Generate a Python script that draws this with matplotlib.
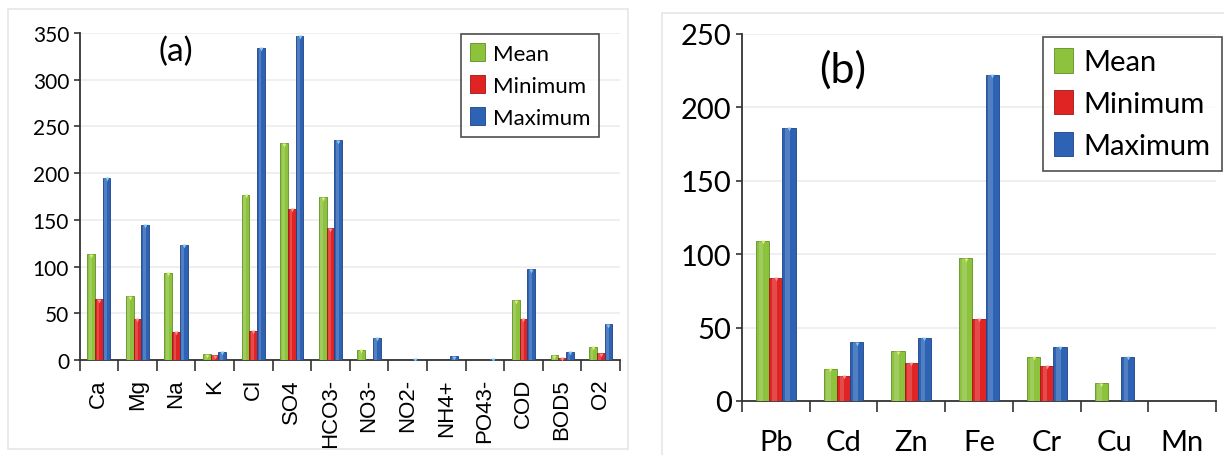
import numpy as np
import matplotlib.pyplot as plt
from matplotlib.patches import Rectangle

plt.rcParams['font.family'] = ['Lato', 'DejaVu Sans']

# panel (a): major ions and indicators
ions = ['Ca', 'Mg', 'Na', 'K', 'Cl', 'SO4', 'HCO3-', 'NO3-', 'NO2-', 'NH4+',
        'PO43-', 'COD', 'BOD5', 'O2']
ions_mean = [113, 68, 93, 6, 177, 232, 174, 11, 0.5, 0.5, 0.4, 64, 5, 14]
ions_min = [65, 44, 30, 5, 31, 162, 141, 0, 0, 0, 0, 44, 2, 7]
ions_max = [195, 145, 123, 9, 334, 347, 235, 24, 1.5, 4, 1.5, 97, 9, 38]

# panel (b): heavy metals
metals = ['Pb', 'Cd', 'Zn', 'Fe', 'Cr', 'Cu', 'Mn']
metals_mean = [109, 22, 34, 97, 30, 12, 0]
metals_min = [84, 17, 26, 56, 24, 0, 0]
metals_max = [186, 40, 43, 222, 37, 30, 0]

colors = ['#8cc23c', '#e02424', '#2d62b5']
edges = ['#5e8f22', '#a01515', '#1d4285']
tops = ['#d8ef6a', '#ff8a8a', '#7fc8f5']
series_names = ['Mean', 'Minimum', 'Maximum']

fig = plt.figure(figsize=(12.24, 4.56), dpi=100)

# light panel frames
fig.patches.append(Rectangle((8/1224, 1 - 450/456), 620/1224, 440/456,
                             transform=fig.transFigure, fill=False,
                             edgecolor='#e6e6e6', lw=1.2))
fig.patches.append(Rectangle((662/1224, 1 - 460/456), 570/1224, 446/456,
                             transform=fig.transFigure, fill=False,
                             edgecolor='#e6e6e6', lw=1.2))

ax1 = fig.add_axes([79.5/1224, 1 - 361/456, (620 - 79.5)/1224, (361 - 34)/456])
ax2 = fig.add_axes([742/1224, 1 - 402/456, (1216 - 742)/1224, (402 - 34.7)/456])


def draw(ax, cats, series, ymax, width, yfs, xfs, lfs, tfs, label, lpos,
         anchor, xrot, xpad, xfam):
    x = np.arange(len(cats))
    for i, vals in enumerate(series):
        pos = x + (i - 1) * width
        ax.bar(pos, vals, width, color=colors[i], edgecolor=edges[i],
               linewidth=0.6, label=series_names[i], zorder=3)
        # lighter inner strip for the glossy look
        ax.bar(pos - width * 0.12, vals, width * 0.35, color='white',
               alpha=0.18, linewidth=0, zorder=4)
        vals = np.array(vals, dtype=float)
        show = vals > 0.8
        ax.plot(pos[show], vals[show] - ymax * 0.004, 'v', color=tops[i],
                ms=width * 14, mec='none', zorder=5)
    ax.set_xlim(-0.5, len(cats) - 0.5)
    ax.set_ylim(0, ymax)
    ax.set_yticks(np.arange(0, ymax + 1, 50))
    ax.set_xticks(x)
    ax.set_xticklabels(cats, rotation=xrot, family=xfam)
    ax.set_xticks(np.arange(len(cats) + 1) - 0.5, minor=True)
    ax.tick_params(axis='x', which='major', length=0, labelsize=xfs, pad=xpad)
    ax.tick_params(axis='x', which='minor', length=8, width=1.2, color='#333333')
    ax.tick_params(axis='y', length=4, width=1.2, labelsize=yfs, color='#333333')
    ax.grid(axis='y', color='#ececec', lw=1.2, zorder=0)
    for s in ['top', 'right']:
        ax.spines[s].set_visible(False)
    for s in ['left', 'bottom']:
        ax.spines[s].set_linewidth(1.3)
        ax.spines[s].set_color('#333333')
    ax.text(lpos[0], lpos[1], label, transform=ax.transAxes, fontsize=tfs,
            ha='center', va='center')
    leg = ax.legend(loc='upper right', bbox_to_anchor=anchor, fontsize=lfs,
                    frameon=True, fancybox=False, edgecolor='#222222',
                    handlelength=0.65, handleheight=0.9, handletextpad=0.35,
                    labelspacing=0.5, borderpad=0.4, borderaxespad=0)
    leg.get_frame().set_linewidth(1.2)
    return ax


draw(ax1, ions, [ions_mean, ions_min, ions_max], 350, 0.2, 15, 16, 16, 24,
     '(a)', (0.178, 0.945), (0.961, 0.997), 90, 13,
     ['Liberation Sans Narrow', 'Liberation Sans', 'DejaVu Sans'])

draw(ax2, metals, [metals_mean, metals_min, metals_max], 250, 0.195, 21, 21,
     21, 31, '(b)', (0.213, 0.905), (1.0127, 0.992), 0, 20,
     ['Lato', 'DejaVu Sans'])

fig.savefig('out.png', dpi=100)
